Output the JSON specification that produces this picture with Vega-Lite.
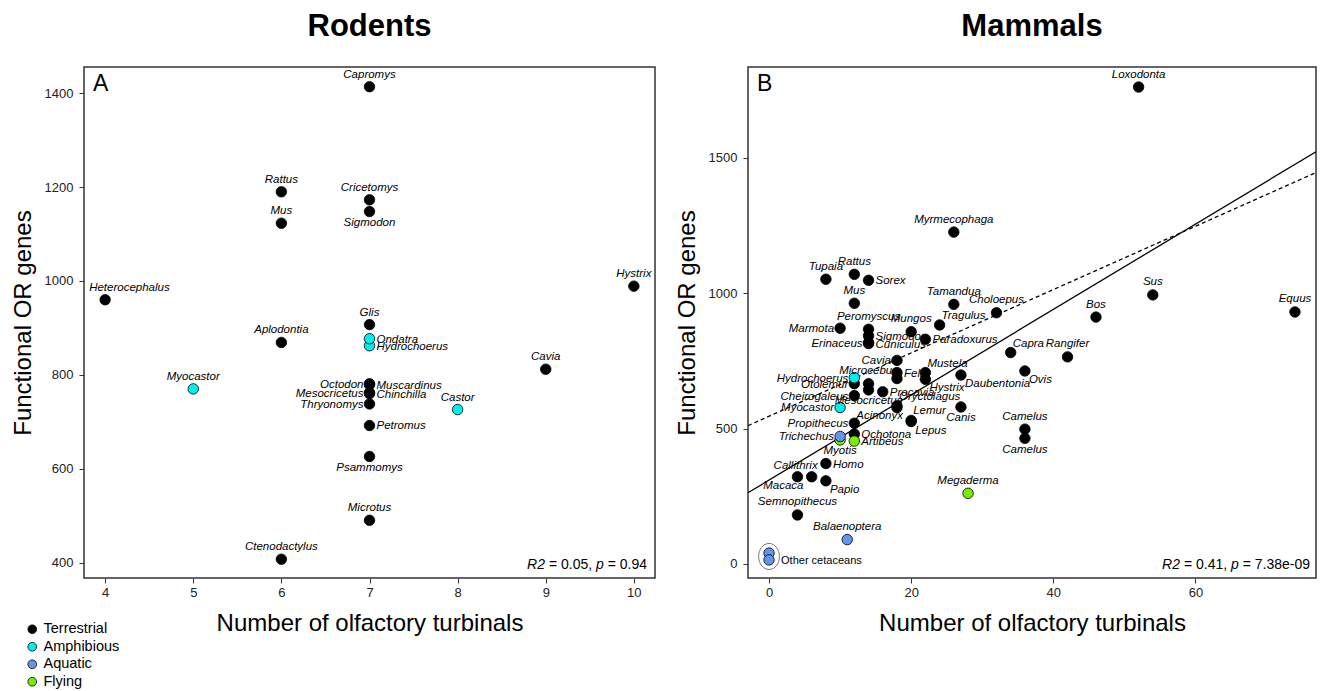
{
  "$schema": "https://vega.github.io/schema/vega-lite/v6.json",
  "autosize": {"type": "pad"},
  "padding": {"left": 10, "top": 10, "right": 0, "bottom": 0},
  "bounds": "flush",
  "spacing": 93,
  "background": "white",
  "config": {
    "font": "Liberation Sans",
    "view": {"stroke": "#333", "strokeWidth": 1.5},
    "axis": {"grid": false, "domain": false, "ticks": true, "tickColor": "#333", "tickSize": 5, "labelFontSize": 13, "labelColor": "#222", "labelPadding": 3, "labelFlush": false, "labelOverlap": false, "titleFontSize": 24, "titleFontWeight": "normal", "titleColor": "black", "titlePadding": 9, "titleFont": "Liberation Sans", "labelFont": "Liberation Sans"},
    "axisX": {"labelAngle": 0, "titlePadding": 12},
    "axisY": {"labelPadding": 6},
    "title": {"fontSize": 31, "fontWeight": "bold", "font": "Liberation Sans", "color": "black", "offset": 24, "anchor": "middle"}
  },
  "datasets": {
    "rodents": [
      {"sp": "Capromys", "turbinals": 7, "orGenes": 1414, "habitat": "Terrestrial"},
      {"sp": "Rattus", "turbinals": 6, "orGenes": 1190, "habitat": "Terrestrial"},
      {"sp": "Cricetomys", "turbinals": 7, "orGenes": 1173, "habitat": "Terrestrial"},
      {"sp": "Sigmodon", "turbinals": 7, "orGenes": 1148, "habitat": "Terrestrial"},
      {"sp": "Mus", "turbinals": 6, "orGenes": 1123, "habitat": "Terrestrial"},
      {"sp": "Hystrix", "turbinals": 10, "orGenes": 989, "habitat": "Terrestrial"},
      {"sp": "Heterocephalus", "turbinals": 4, "orGenes": 960, "habitat": "Terrestrial"},
      {"sp": "Glis", "turbinals": 7, "orGenes": 907, "habitat": "Terrestrial"},
      {"sp": "Hydrochoerus", "turbinals": 7, "orGenes": 862, "habitat": "Amphibious"},
      {"sp": "Ondatra", "turbinals": 7, "orGenes": 877, "habitat": "Amphibious"},
      {"sp": "Aplodontia", "turbinals": 6, "orGenes": 869, "habitat": "Terrestrial"},
      {"sp": "Cavia", "turbinals": 9, "orGenes": 812, "habitat": "Terrestrial"},
      {"sp": "Myocastor", "turbinals": 5, "orGenes": 770, "habitat": "Amphibious"},
      {"sp": "Octodon", "turbinals": 7, "orGenes": 781, "habitat": "Terrestrial"},
      {"sp": "Muscardinus", "turbinals": 7, "orGenes": 779, "habitat": "Terrestrial"},
      {"sp": "Mesocricetus", "turbinals": 7, "orGenes": 762, "habitat": "Terrestrial"},
      {"sp": "Chinchilla", "turbinals": 7, "orGenes": 760, "habitat": "Terrestrial"},
      {"sp": "Thryonomys", "turbinals": 7, "orGenes": 738, "habitat": "Terrestrial"},
      {"sp": "Castor", "turbinals": 8, "orGenes": 726, "habitat": "Amphibious"},
      {"sp": "Petromus", "turbinals": 7, "orGenes": 692, "habitat": "Terrestrial"},
      {"sp": "Psammomys", "turbinals": 7, "orGenes": 626, "habitat": "Terrestrial"},
      {"sp": "Microtus", "turbinals": 7, "orGenes": 490, "habitat": "Terrestrial"},
      {"sp": "Ctenodactylus", "turbinals": 6, "orGenes": 407, "habitat": "Terrestrial"}
    ],
    "mammals": [
      {"sp": "Loxodonta", "turbinals": 52, "orGenes": 1762, "habitat": "Terrestrial"},
      {"sp": "Myrmecophaga", "turbinals": 26, "orGenes": 1226, "habitat": "Terrestrial"},
      {"sp": "Tupaia", "turbinals": 8, "orGenes": 1052, "habitat": "Terrestrial"},
      {"sp": "Rattus", "turbinals": 12, "orGenes": 1070, "habitat": "Terrestrial"},
      {"sp": "Sorex", "turbinals": 14, "orGenes": 1048, "habitat": "Terrestrial"},
      {"sp": "Mus", "turbinals": 12, "orGenes": 963, "habitat": "Terrestrial"},
      {"sp": "Tamandua", "turbinals": 26, "orGenes": 959, "habitat": "Terrestrial"},
      {"sp": "Choloepus", "turbinals": 32, "orGenes": 928, "habitat": "Terrestrial"},
      {"sp": "Tragulus", "turbinals": 24, "orGenes": 883, "habitat": "Terrestrial"},
      {"sp": "Marmota", "turbinals": 10, "orGenes": 871, "habitat": "Terrestrial"},
      {"sp": "Peromyscus", "turbinals": 14, "orGenes": 867, "habitat": "Terrestrial"},
      {"sp": "Mungos", "turbinals": 20, "orGenes": 858, "habitat": "Terrestrial"},
      {"sp": "Sigmodon", "turbinals": 14, "orGenes": 843, "habitat": "Terrestrial"},
      {"sp": "Paradoxurus", "turbinals": 22, "orGenes": 830, "habitat": "Terrestrial"},
      {"sp": "Erinaceus", "turbinals": 14, "orGenes": 818, "habitat": "Terrestrial"},
      {"sp": "Cuniculus", "turbinals": 14, "orGenes": 814, "habitat": "Terrestrial"},
      {"sp": "Cavia", "turbinals": 18, "orGenes": 752, "habitat": "Terrestrial"},
      {"sp": "Capra", "turbinals": 34, "orGenes": 781, "habitat": "Terrestrial"},
      {"sp": "Bos", "turbinals": 46, "orGenes": 912, "habitat": "Terrestrial"},
      {"sp": "Sus", "turbinals": 54, "orGenes": 994, "habitat": "Terrestrial"},
      {"sp": "Equus", "turbinals": 74, "orGenes": 931, "habitat": "Terrestrial"},
      {"sp": "Rangifer", "turbinals": 42, "orGenes": 765, "habitat": "Terrestrial"},
      {"sp": "Ovis", "turbinals": 36, "orGenes": 713, "habitat": "Terrestrial"},
      {"sp": "Daubentonia", "turbinals": 27, "orGenes": 698, "habitat": "Terrestrial"},
      {"sp": "Mustela", "turbinals": 22, "orGenes": 707, "habitat": "Terrestrial"},
      {"sp": "Hystrix", "turbinals": 22, "orGenes": 682, "habitat": "Terrestrial"},
      {"sp": "Felis", "turbinals": 18, "orGenes": 707, "habitat": "Terrestrial"},
      {"sp": "", "turbinals": 18, "orGenes": 685, "habitat": "Terrestrial"},
      {"sp": "Microcebus", "turbinals": 14, "orGenes": 666, "habitat": "Terrestrial"},
      {"sp": "Mesocricetus", "turbinals": 14, "orGenes": 643, "habitat": "Terrestrial"},
      {"sp": "Procavia", "turbinals": 16, "orGenes": 636, "habitat": "Terrestrial"},
      {"sp": "Otolemur", "turbinals": 12, "orGenes": 666, "habitat": "Terrestrial"},
      {"sp": "Hydrochoerus", "turbinals": 12, "orGenes": 688, "habitat": "Amphibious"},
      {"sp": "Cheirogaleus", "turbinals": 12, "orGenes": 622, "habitat": "Terrestrial"},
      {"sp": "Myocastor", "turbinals": 10, "orGenes": 578, "habitat": "Amphibious"},
      {"sp": "Oryctolagus", "turbinals": 18, "orGenes": 584, "habitat": "Terrestrial"},
      {"sp": "Acinonyx", "turbinals": 18, "orGenes": 578, "habitat": "Terrestrial"},
      {"sp": "Canis", "turbinals": 27, "orGenes": 580, "habitat": "Terrestrial"},
      {"sp": "Lemur", "turbinals": 20, "orGenes": 530, "habitat": "Terrestrial"},
      {"sp": "Lepus", "turbinals": 20, "orGenes": 526, "habitat": "Terrestrial"},
      {"sp": "Propithecus", "turbinals": 12, "orGenes": 520, "habitat": "Terrestrial"},
      {"sp": "Ochotona", "turbinals": 12, "orGenes": 480, "habitat": "Terrestrial"},
      {"sp": "Artibeus", "turbinals": 12, "orGenes": 454, "habitat": "Flying"},
      {"sp": "Myotis", "turbinals": 10, "orGenes": 458, "habitat": "Flying"},
      {"sp": "Trichechus", "turbinals": 10, "orGenes": 471, "habitat": "Aquatic"},
      {"sp": "Camelus", "turbinals": 36, "orGenes": 498, "habitat": "Terrestrial"},
      {"sp": "Camelus", "turbinals": 36, "orGenes": 464, "habitat": "Terrestrial"},
      {"sp": "Homo", "turbinals": 8, "orGenes": 371, "habitat": "Terrestrial"},
      {"sp": "Callithrix", "turbinals": 6, "orGenes": 322, "habitat": "Terrestrial"},
      {"sp": "Macaca", "turbinals": 4, "orGenes": 322, "habitat": "Terrestrial"},
      {"sp": "Papio", "turbinals": 8, "orGenes": 307, "habitat": "Terrestrial"},
      {"sp": "Semnopithecus", "turbinals": 4, "orGenes": 181, "habitat": "Terrestrial"},
      {"sp": "Megaderma", "turbinals": 28, "orGenes": 261, "habitat": "Flying"},
      {"sp": "Balaenoptera", "turbinals": 11, "orGenes": 90, "habitat": "Aquatic"},
      {"sp": "Other cetaceans", "turbinals": 0, "orGenes": 40, "habitat": "Aquatic"},
      {"sp": "Other cetaceans", "turbinals": 0, "orGenes": 15, "habitat": "Aquatic"}
    ],
    "fits": [
      {"model": "fit1", "turbinals": -2.96, "orGenes": 263},
      {"model": "fit1", "turbinals": 76.96, "orGenes": 1523},
      {"model": "fit2", "turbinals": -2.96, "orGenes": 511},
      {"model": "fit2", "turbinals": 76.96, "orGenes": 1446}
    ]
  },
  "resolve": {"scale": {"color": "shared"}, "legend": {"color": "shared"}},
  "hconcat": [
    {
      "width": 571,
      "height": 511,
      "title": {"text": "Rodents"},
      "data": {"name": "rodents"},
      "encoding": {
        "x": {"field": "turbinals", "type": "quantitative", "scale": {"domain": [3.76, 10.24], "nice": false, "zero": false}, "axis": {"values": [4, 5, 6, 7, 8, 9, 10], "title": "Number of olfactory turbinals"}},
        "y": {"field": "orGenes", "type": "quantitative", "scale": {"domain": [367, 1456], "nice": false, "zero": false}, "axis": {"values": [400, 600, 800, 1000, 1200, 1400], "format": "d", "title": "Functional OR genes"}}
      },
      "layer": [
        {
          "mark": {"type": "point", "shape": "circle", "filled": true, "size": 110, "stroke": "black", "strokeWidth": 0.8, "opacity": 1},
          "encoding": {
            "color": {"field": "habitat", "type": "nominal", "scale": {"domain": ["Terrestrial", "Amphibious", "Aquatic", "Flying"], "range": ["#000000", "#00EEEE", "#6495ED", "#76EE00"]},
              "legend": {"title": null, "orient": "none", "legendX": -59, "legendY": 555, "symbolType": "circle", "symbolSize": 76, "symbolStrokeColor": "black", "symbolStrokeWidth": 0.8, "symbolOpacity": 1, "labelFontSize": 14.5, "labelColor": "black", "labelFont": "Liberation Sans", "rowPadding": 2.5, "padding": 0, "labelOffset": 4}}
          }
        },
        {
          "transform": [{"filter": {"field": "sp", "oneOf": ["Capromys", "Rattus", "Cricetomys", "Mus", "Hystrix", "Glis", "Aplodontia", "Cavia", "Myocastor", "Castor", "Microtus", "Ctenodactylus"]}}],
          "mark": {"type": "text", "align": "center", "baseline": "alphabetic", "dy": -9, "fontSize": 11.5, "fontStyle": "italic", "color": "black"},
          "encoding": {"text": {"field": "sp"}}
        },
        {
          "transform": [{"filter": {"field": "sp", "oneOf": ["Sigmodon", "Psammomys"]}}],
          "mark": {"type": "text", "align": "center", "baseline": "alphabetic", "dy": 14.5, "fontSize": 11.5, "fontStyle": "italic", "color": "black"},
          "encoding": {"text": {"field": "sp"}}
        },
        {
          "transform": [{"filter": {"field": "sp", "oneOf": ["Octodon", "Mesocricetus", "Thryonomys"]}}],
          "mark": {"type": "text", "align": "right", "baseline": "alphabetic", "dx": -6, "dy": 4, "fontSize": 11.5, "fontStyle": "italic", "color": "black"},
          "encoding": {"text": {"field": "sp"}}
        },
        {
          "transform": [{"filter": {"field": "sp", "oneOf": ["Ondatra", "Hydrochoerus", "Muscardinus", "Chinchilla", "Petromus"]}}],
          "mark": {"type": "text", "align": "left", "baseline": "alphabetic", "dx": 7, "dy": 4, "fontSize": 11.5, "fontStyle": "italic", "color": "black"},
          "encoding": {"text": {"field": "sp"}}
        },
        {
          "transform": [{"filter": {"field": "sp", "oneOf": ["Heterocephalus"]}}],
          "mark": {"type": "text", "align": "left", "baseline": "alphabetic", "dx": -16, "dy": -9, "fontSize": 11.5, "fontStyle": "italic", "color": "black"},
          "encoding": {"text": {"field": "sp"}}
        },
        {
          "data": {"values": [{"t": "R2"}]},
          "mark": {"type": "text", "align": "right", "baseline": "alphabetic", "dx": -110, "dy": -9.5, "fontSize": 14, "fontStyle": "italic", "color": "black"},
          "encoding": {"x": {"value": "width"}, "y": {"value": "height"}, "text": {"field": "t"}}
        },
        {
          "data": {"values": [{"t": "= 0.05,"}]},
          "mark": {"type": "text", "align": "right", "baseline": "alphabetic", "dx": -62.9, "dy": -9.5, "fontSize": 14, "color": "black"},
          "encoding": {"x": {"value": "width"}, "y": {"value": "height"}, "text": {"field": "t"}}
        },
        {
          "data": {"values": [{"t": "p"}]},
          "mark": {"type": "text", "align": "right", "baseline": "alphabetic", "dx": -51.2, "dy": -9.5, "fontSize": 14, "fontStyle": "italic", "color": "black"},
          "encoding": {"x": {"value": "width"}, "y": {"value": "height"}, "text": {"field": "t"}}
        },
        {
          "data": {"values": [{"t": "= 0.94"}]},
          "mark": {"type": "text", "align": "right", "baseline": "alphabetic", "dx": -8, "dy": -9.5, "fontSize": 14, "color": "black"},
          "encoding": {"x": {"value": "width"}, "y": {"value": "height"}, "text": {"field": "t"}}
        },
        {
          "data": {"values": [{"t": "A"}]},
          "mark": {"type": "text", "align": "left", "baseline": "alphabetic", "dx": 9, "dy": 24, "fontSize": 23, "color": "black"},
          "encoding": {"x": {"value": 0}, "y": {"value": 0}, "text": {"field": "t"}}
        }
      ]
    },
    {
      "width": 568,
      "height": 511,
      "title": {"text": "Mammals"},
      "data": {"name": "mammals"},
      "encoding": {
        "x": {"field": "turbinals", "type": "quantitative", "scale": {"domain": [-2.96, 76.96], "nice": false, "zero": false}, "axis": {"values": [0, 20, 40, 60], "title": "Number of olfactory turbinals"}},
        "y": {"field": "orGenes", "type": "quantitative", "scale": {"domain": [-52, 1836], "nice": false, "zero": false}, "axis": {"values": [0, 500, 1000, 1500], "format": "d", "title": "Functional OR genes"}}
      },
      "layer": [
        {
          "data": {"name": "fits"},
          "transform": [{"filter": {"field": "model", "equal": "fit1"}}],
          "mark": {"type": "line", "color": "black", "strokeWidth": 1.3, "clip": true},
          "encoding": {}
        },
        {
          "data": {"name": "fits"},
          "transform": [{"filter": {"field": "model", "equal": "fit2"}}],
          "mark": {"type": "line", "color": "black", "strokeWidth": 1.3, "strokeDash": [4, 3], "clip": true},
          "encoding": {}
        },
        {
          "transform": [
            {"filter": {"field": "sp", "equal": "Other cetaceans"}},
            {"aggregate": [{"op": "mean", "field": "orGenes", "as": "orGenes"}, {"op": "mean", "field": "turbinals", "as": "turbinals"}]}
          ],
          "mark": {"type": "point", "shape": "M0,-1A0.8,1,0,1,1,0,1A0.8,1,0,1,1,0,-1Z", "filled": false, "size": 676, "stroke": "#777", "strokeWidth": 1, "opacity": 1},
          "encoding": {}
        },
        {
          "mark": {"type": "point", "shape": "circle", "filled": true, "size": 110, "stroke": "black", "strokeWidth": 0.8, "opacity": 1},
          "encoding": {
            "color": {"field": "habitat", "type": "nominal", "scale": {"domain": ["Terrestrial", "Amphibious", "Aquatic", "Flying"], "range": ["#000000", "#00EEEE", "#6495ED", "#76EE00"]},
              "legend": {"title": null, "orient": "none", "legendX": -59, "legendY": 555, "symbolType": "circle", "symbolSize": 76, "symbolStrokeColor": "black", "symbolStrokeWidth": 0.8, "symbolOpacity": 1, "labelFontSize": 14.5, "labelColor": "black", "labelFont": "Liberation Sans", "rowPadding": 2.5, "padding": 0, "labelOffset": 4}}
          }
        },
        {
          "transform": [{"filter": "indexof(['Loxodonta','Myrmecophaga','Tupaia','Rattus','Mus','Tamandua','Choloepus','Peromyscus','Mungos','Bos','Sus','Equus','Rangifer','Microcebus','Semnopithecus','Megaderma','Balaenoptera'], datum.sp) >= 0 || (datum.sp === 'Camelus' && datum.orGenes > 480)"}],
          "mark": {"type": "text", "align": "center", "baseline": "alphabetic", "dy": -9.5, "fontSize": 11.5, "fontStyle": "italic", "color": "black"},
          "encoding": {"text": {"field": "sp"}}
        },
        {
          "transform": [{"filter": "indexof(['Canis','Myotis','Mesocricetus'], datum.sp) >= 0 || (datum.sp === 'Camelus' && datum.orGenes < 480)"}],
          "mark": {"type": "text", "align": "center", "baseline": "alphabetic", "dy": 14.5, "fontSize": 11.5, "fontStyle": "italic", "color": "black"},
          "encoding": {"text": {"field": "sp"}}
        },
        {
          "transform": [{"filter": {"field": "sp", "oneOf": ["Marmota", "Erinaceus", "Cavia", "Hydrochoerus", "Otolemur", "Cheirogaleus", "Myocastor", "Propithecus", "Trichechus"]}}],
          "mark": {"type": "text", "align": "right", "baseline": "alphabetic", "dx": -6, "dy": 4, "fontSize": 11.5, "fontStyle": "italic", "color": "black"},
          "encoding": {"text": {"field": "sp"}}
        },
        {
          "transform": [{"filter": {"field": "sp", "oneOf": ["Sorex", "Sigmodon", "Paradoxurus", "Cuniculus", "Felis", "Procavia", "Ochotona", "Artibeus", "Homo"]}}],
          "mark": {"type": "text", "align": "left", "baseline": "alphabetic", "dx": 7, "dy": 4, "fontSize": 11.5, "fontStyle": "italic", "color": "black"},
          "encoding": {"text": {"field": "sp"}}
        },
        {
          "transform": [{"filter": {"field": "sp", "oneOf": ["Tragulus", "Capra", "Mustela", "Oryctolagus", "Lemur"]}}],
          "mark": {"type": "text", "align": "left", "baseline": "alphabetic", "dx": 2, "dy": -6, "fontSize": 11.5, "fontStyle": "italic", "color": "black"},
          "encoding": {"text": {"field": "sp"}}
        },
        {
          "transform": [{"filter": {"field": "sp", "oneOf": ["Ovis", "Daubentonia", "Hystrix", "Lepus", "Papio"]}}],
          "mark": {"type": "text", "align": "left", "baseline": "alphabetic", "dx": 4, "dy": 12, "fontSize": 11.5, "fontStyle": "italic", "color": "black"},
          "encoding": {"text": {"field": "sp"}}
        },
        {
          "transform": [{"filter": {"field": "sp", "oneOf": ["Acinonyx", "Macaca"]}}],
          "mark": {"type": "text", "align": "right", "baseline": "alphabetic", "dx": 6, "dy": 12, "fontSize": 11.5, "fontStyle": "italic", "color": "black"},
          "encoding": {"text": {"field": "sp"}}
        },
        {
          "transform": [{"filter": {"field": "sp", "oneOf": ["Callithrix"]}}],
          "mark": {"type": "text", "align": "right", "baseline": "alphabetic", "dx": 6, "dy": -8, "fontSize": 11.5, "fontStyle": "italic", "color": "black"},
          "encoding": {"text": {"field": "sp"}}
        },
        {
          "transform": [{"filter": "datum.sp === 'Other cetaceans' && datum.orGenes < 30"}],
          "mark": {"type": "text", "align": "left", "baseline": "alphabetic", "dx": 12, "dy": 4, "fontSize": 11, "color": "black"},
          "encoding": {"text": {"field": "sp"}}
        },
        {
          "data": {"values": [{"t": "R2"}]},
          "mark": {"type": "text", "align": "right", "baseline": "alphabetic", "dx": -136, "dy": -9, "fontSize": 14, "fontStyle": "italic", "color": "black"},
          "encoding": {"x": {"value": "width"}, "y": {"value": "height"}, "text": {"field": "t"}}
        },
        {
          "data": {"values": [{"t": "= 0.41,"}]},
          "mark": {"type": "text", "align": "right", "baseline": "alphabetic", "dx": -88.9, "dy": -9, "fontSize": 14, "color": "black"},
          "encoding": {"x": {"value": "width"}, "y": {"value": "height"}, "text": {"field": "t"}}
        },
        {
          "data": {"values": [{"t": "p"}]},
          "mark": {"type": "text", "align": "right", "baseline": "alphabetic", "dx": -77.2, "dy": -9, "fontSize": 14, "fontStyle": "italic", "color": "black"},
          "encoding": {"x": {"value": "width"}, "y": {"value": "height"}, "text": {"field": "t"}}
        },
        {
          "data": {"values": [{"t": "= 7.38e-09"}]},
          "mark": {"type": "text", "align": "right", "baseline": "alphabetic", "dx": -6, "dy": -9, "fontSize": 14, "color": "black"},
          "encoding": {"x": {"value": "width"}, "y": {"value": "height"}, "text": {"field": "t"}}
        },
        {
          "data": {"values": [{"t": "B"}]},
          "mark": {"type": "text", "align": "left", "baseline": "alphabetic", "dx": 9, "dy": 24, "fontSize": 23, "color": "black"},
          "encoding": {"x": {"value": 0}, "y": {"value": 0}, "text": {"field": "t"}}
        }
      ]
    }
  ]
}
